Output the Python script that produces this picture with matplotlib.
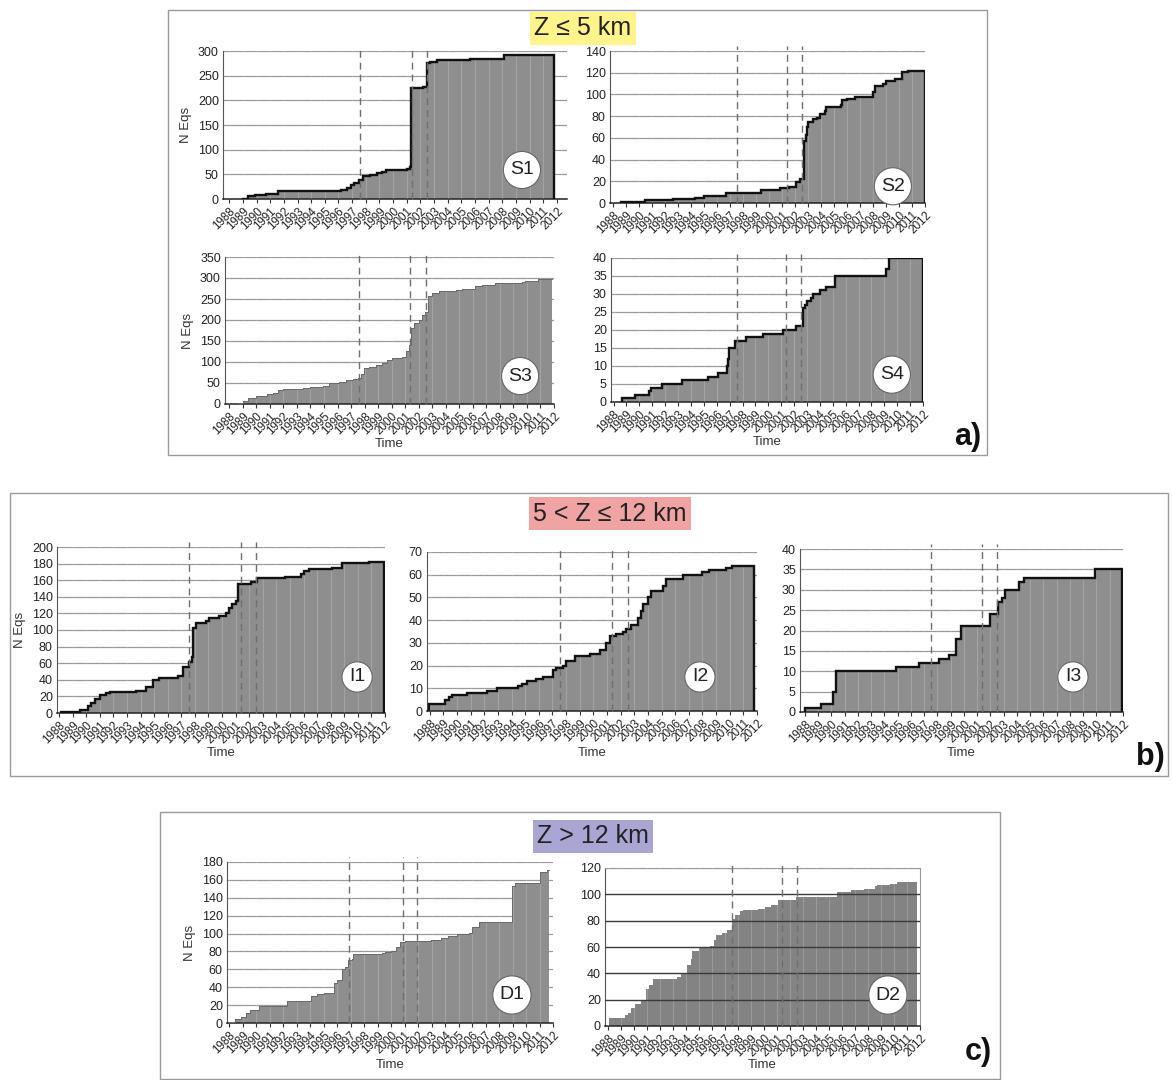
import numpy as np
import matplotlib
matplotlib.use('Agg')
import matplotlib.pyplot as plt
from matplotlib.patches import Rectangle

plt.rcParams['font.family'] = ['Liberation Sans', 'DejaVu Sans']

YEARS = list(range(1988, 2013))

# ---- data: event times (decimal years) and cumulative number of earthquakes ----
S1_T = [1989.0, 1989.4, 1989.9, 1990.7, 1991.6, 1996.2, 1996.6, 1996.9, 1997.1, 1997.5,
        1997.8, 1998.3, 1998.8, 1999.2, 1999.5, 2001.0, 2001.25, 2001.3, 2002.2, 2002.5,
        2002.7, 2003.2, 2005.6, 2008.1]
S1_N = [1, 7, 8, 10, 16, 19, 22, 28, 33, 38, 46, 48, 52, 55, 58, 60, 65, 225, 228, 275,
        278, 282, 283, 291]

S2_T = [1988.56, 1990.4, 1992.6, 1994.3, 1995.0, 1996.7, 1999.4, 2000.8, 2001.5, 2002.1,
        2002.4, 2002.7, 2002.8, 2002.9, 2003.0, 2003.4, 2003.7, 2003.9, 2004.3, 2004.4,
        2005.5, 2005.6, 2005.96, 2006.6, 2008.0, 2008.15, 2008.8, 2009.0, 2009.7, 2010.2,
        2010.7]
S2_N = [1, 3, 4, 5, 6, 9, 12, 14, 15, 19, 22, 57, 63, 70, 75, 77, 78, 82, 85, 88, 90, 95,
        96, 98, 102, 108, 110, 112, 114, 121, 122]

S3_T = [1988.66, 1989.03, 1989.4, 1990.0, 1990.75, 1991.24, 1991.6, 1991.97, 1993.44,
        1993.93, 1994.91, 1995.4, 1996.14, 1996.63, 1997.12, 1997.49, 1997.73, 1997.98,
        1998.34, 1998.83, 1999.32, 1999.69, 2000.06, 2000.79, 2001.04, 2001.28, 2001.4,
        2001.65, 2002.02, 2002.26, 2002.5, 2002.66, 2003.0, 2003.49, 2004.72, 2005.2,
        2006.19, 2006.68, 2007.66, 2008.64, 2009.62, 2009.86, 2010.84]
S3_N = [2, 8, 15, 20, 23, 26, 33, 35, 38, 40, 42, 50, 52, 57, 59, 62, 72, 85, 88, 92, 97,
        105, 110, 112, 125, 140, 180, 192, 200, 213, 220, 258, 265, 268, 272, 275, 280, 284,
        287, 289, 291, 293, 298]

S4_T = [1988.65, 1989.68, 1990.71, 1990.89, 1991.74, 1993.29, 1995.35, 1996.13, 1996.77,
        1996.85, 1996.95, 1997.42, 1998.25, 1999.61, 2001.11, 2002.14, 2002.71, 2002.84,
        2002.97, 2003.35, 2003.48, 2004.0, 2004.46, 2005.16, 2009.11, 2009.34]
S4_N = [1, 2, 3, 4, 5, 6, 7, 8, 10, 12, 15, 17, 18, 19, 20, 21, 26, 27, 28, 29, 30, 31, 32,
        35, 37, 40]

I1_T = [1988.17, 1989.52, 1990.13, 1990.37, 1990.62, 1990.98, 1991.47, 1991.72, 1993.67,
        1994.41, 1994.9, 1995.38, 1996.73, 1997.1, 1997.58, 1997.78, 1997.9, 1998.07,
        1998.8, 1999.05, 1999.78, 2000.27, 2000.52, 2000.76, 2001.0, 2001.2, 2001.5,
        2002.1, 2002.6, 2004.67, 2005.78, 2006.02, 2006.39, 2008.1, 2008.83, 2010.79]
I1_N = [1, 4, 8, 12, 17, 22, 24, 25, 26, 31, 40, 42, 45, 55, 62, 67, 103, 108, 111, 115,
        117, 120, 126, 131, 135, 155, 156, 158, 163, 164, 167, 171, 173, 175, 181, 182]

I2_T = [1987.95, 1989.14, 1989.39, 1989.63, 1990.73, 1992.18, 1992.91, 1994.5, 1994.74,
        1995.1, 1995.83, 1996.32, 1997.05, 1997.29, 1997.78, 1998.02, 1998.63, 1999.73,
        2000.46, 2000.94, 2001.19, 2001.67, 2002.16, 2002.4, 2002.77, 2003.26, 2003.5,
        2003.62, 2003.99, 2004.23, 2005.08, 2005.32, 2006.54, 2008.0, 2008.49, 2009.7,
        2010.19]
I2_N = [3, 5, 6, 7, 8, 9, 10, 11, 12, 13, 14, 15, 18, 19, 20, 22, 24, 25, 27, 30, 33, 34,
        35, 36, 38, 41, 44, 47, 50, 53, 55, 58, 60, 61, 62, 63, 64]

I3_T = [1988.0, 1989.25, 1990.13, 1990.38, 1994.88, 1996.63, 1998.13, 1998.88, 1999.38,
        1999.75, 2002.0, 2002.58, 2002.88, 2003.13, 2004.13, 2004.5, 2009.88]
I3_N = [1, 2, 5, 10, 11, 12, 13, 14, 18, 21, 24, 27, 28, 30, 32, 33, 35]

D1_T = [1988.05, 1988.42, 1988.9, 1989.27, 1989.52, 1990.25, 1992.33, 1994.04, 1994.53,
        1995.02, 1995.75, 1996.0, 1996.36, 1996.6, 1996.85, 1997.14, 1997.22, 1999.3,
        1999.54, 2000.03, 2000.4, 2000.64, 2001.0, 2002.96, 2003.7, 2004.19, 2004.92,
        2005.78, 2006.02, 2006.51, 2008.95, 2009.2, 2011.03, 2011.52]
D1_N = [1, 5, 7, 11, 15, 19, 25, 30, 32, 34, 45, 48, 60, 63, 70, 72, 77, 78, 79, 80, 85,
        91, 92, 93, 95, 97, 99, 101, 107, 113, 153, 156, 169, 171]

D2_T = [1988.08, 1989.27, 1989.52, 1989.78, 1990.03, 1990.54, 1990.87, 1991.12, 1991.43,
        1993.33, 1993.58, 1994.09, 1994.35, 1994.47, 1994.98, 1995.87, 1996.12, 1996.3,
        1996.76, 1997.14, 1997.52, 1997.77, 1998.15, 1998.41, 1999.55, 2000.06, 2000.56,
        2001.07, 2002.47, 2005.64, 2006.65, 2007.67, 2008.56, 2008.69, 2009.7, 2010.21]
D2_N = [6, 8, 10, 14, 17, 19, 28, 31, 36, 37, 40, 46, 51, 57, 59, 61, 65, 69, 71, 73, 81,
        84, 87, 88, 89, 90, 92, 96, 98, 102, 103, 104, 106, 107, 108, 109]

# dashed reference dates (decimal years)
EVENTS = [1997.55, 2001.38, 2002.52]
EVENTS_D1 = [1996.9, 2000.9, 2001.9]

GROUP_TITLES = ['Z \u2264 5 km', '5 < Z \u2264 12 km', 'Z > 12 km']
GROUP_LETTERS = ['a)', 'b)', 'c)']

# ---------------------------------------------------------------------------
W, H = 1172, 1080
fig = plt.figure(figsize=(W / 100, H / 100), dpi=100)
fig.patch.set_facecolor('white')


def px_rect(x0, y0, x1, y1):
    return [x0 / W, 1 - y1 / H, (x1 - x0) / W, (y1 - y0) / H]


def draw_panel(rect, T, N, end, xl, xr, ymax, ystep, events, name, lpos,
               ylabel=False, xlabel=False, outline=True, dark_grid=False,
               frame=False, fill='#8e8e8e', time_dy=40):
    ax = fig.add_axes(px_rect(*rect))
    T = np.asarray(T, float)
    N = np.asarray(N, float)
    xs = np.r_[T, end]
    ys = np.r_[N, N[-1]]
    ax.fill_between(xs, 0, ys, step='post', color=fill, lw=0, zorder=2)
    # step outline (closed polygon)
    px = np.r_[T[0], np.repeat(xs, 2)[1:-1], end]
    py = np.r_[0, np.repeat(N, 2), 0]
    if outline:
        ax.plot(px, py, color='#111111', lw=1.7, zorder=5, solid_joinstyle='miter')
    elif not dark_grid:
        ax.plot(px[:-1], py[:-1], color='#6a6a6a', lw=0.7, zorder=5)
    # faint yearly lines inside the fill
    for yv in YEARS:
        ax.axvline(yv, color='white', alpha=0.18, lw=0.8, zorder=3)
    # dashed event lines
    for ev in events:
        ax.axvline(ev, ymin=0, ymax=1.03, color='#6f6f6f', lw=1.0,
                   ls=(0, (5, 3.5)), zorder=6, clip_on=False)
    ax.set_xlim(xl, xr)
    ax.set_ylim(0, ymax)
    yt = np.arange(0, ymax + 1, ystep)
    ax.set_yticks(yt)
    if dark_grid:
        for v in yt[1:-1]:
            ax.axhline(v, color='#3a3a3a', lw=1.0, zorder=4)
        ax.axhline(ymax, color='#9a9a9a', lw=0.9, zorder=1)
    else:
        ax.yaxis.grid(True, color='#999999', lw=0.9)
        ax.set_axisbelow(True)
    ax.set_xticks(YEARS)
    ax.set_xticklabels([str(y) for y in YEARS], rotation=45, ha='right',
                       rotation_mode='anchor', fontsize=8.4, color='#222222')
    ax.tick_params(axis='x', length=3, width=0.8, pad=1.5, color='#333333')
    ax.tick_params(axis='y', length=0, pad=3, labelsize=9, labelcolor='#222222')
    for s in ['top', 'right']:
        ax.spines[s].set_visible(False)
    if frame:
        ax.spines['top'].set_visible(True)
        ax.spines['right'].set_visible(True)
        ax.spines['top'].set_color('#9a9a9a')
        ax.spines['right'].set_color('#9a9a9a')
    ax.spines['left'].set_color('#555555')
    ax.spines['bottom'].set_color('#222222')
    ax.spines['bottom'].set_linewidth(1.1)
    ax.set_facecolor('white')
    hpx = rect[3] - rect[1]
    if ylabel:
        ax.set_ylabel('N Eqs', fontsize=9.5, color='#333333', labelpad=4)
    if xlabel:
        ax.text(0.5, -time_dy / hpx, 'Time', transform=ax.transAxes,
                ha='center', va='center', fontsize=9.5, color='#333333')
    ax.text(lpos[0], lpos[1], name, transform=ax.transAxes, ha='center',
            va='center', fontsize=14, color='#222222', zorder=8,
            bbox=dict(boxstyle='circle,pad=0.34', fc='white', ec='#666666', lw=0.8))
    return ax


# group frames
for (x0, y0, x1, y1) in [(168, 10, 987, 455), (10, 493, 1168, 776), (160, 812, 1000, 1079)]:
    fig.patches.append(Rectangle((x0 / W, 1 - y1 / H), (x1 - x0) / W, (y1 - y0) / H,
                                 transform=fig.transFigure, fill=False,
                                 ec='#9a9a9a', lw=1.0, zorder=0))

# group a
draw_panel((223, 51, 567, 199), S1_T, S1_N, 2011.82, 1987.54, 2012.74, 300, 50,
           EVENTS, 'S1', (0.869, 0.196), ylabel=True)
draw_panel((610, 51, 925, 203), S2_T, S2_N, 2012.0, 1987.74, 2012.0, 140, 20,
           EVENTS, 'S2', (0.898, 0.11))
draw_panel((225, 257, 554, 404), S3_T, S3_N, 2011.85, 1987.68, 2011.85, 350, 50,
           EVENTS, 'S3', (0.897, 0.19), ylabel=True, xlabel=True, outline=False)
draw_panel((611, 258, 923, 402), S4_T, S4_N, 2012.0, 1987.8, 2012.0, 40, 5,
           EVENTS, 'S4', (0.90, 0.19), xlabel=True)

# group b
draw_panel((57, 547, 385, 713), I1_T, I1_N, 2011.9, 1987.85, 2011.9, 200, 20,
           EVENTS, 'I1', (0.915, 0.217), ylabel=True, xlabel=True)
draw_panel((427, 552, 757, 711), I2_T, I2_N, 2011.8, 1987.8, 2011.8, 70, 10,
           EVENTS, 'I2', (0.827, 0.214), xlabel=True, time_dy=42)
draw_panel((800, 549, 1123, 712), I3_T, I3_N, 2011.9, 1987.63, 2011.9, 40, 5,
           EVENTS, 'I3', (0.845, 0.215), xlabel=True, time_dy=41)

# group c
draw_panel((227, 862, 553, 1023), D1_T, D1_N, 2011.7, 1987.85, 2011.7, 180, 20,
           EVENTS_D1, 'D1', (0.874, 0.174), ylabel=True, xlabel=True, outline=False,
           time_dy=42)
draw_panel((605, 868, 920, 1026), D2_T, D2_N, 2011.75, 1987.75, 2011.75, 120, 20,
           EVENTS, 'D2', (0.898, 0.196), xlabel=True, outline=False, dark_grid=True,
           frame=True, fill='#838383', time_dy=39)

# group titles
title_specs = [((583, 28), '#fff38c'), ((610, 514), '#f0a3a3'), ((593, 836), '#a9a6d3')]
for (cx, cy), col, txt in zip([t[0] for t in title_specs], [t[1] for t in title_specs],
                              GROUP_TITLES):
    fig.text(cx / W, 1 - cy / H, txt, ha='center', va='center', fontsize=18,
             color='#222222',
             bbox=dict(boxstyle='square,pad=0.18', fc=col, ec='none'))

# group letters
for (cx, cy), lab in zip([(968, 437), (1150, 757), (978, 1052)], GROUP_LETTERS):
    fig.text(cx / W, 1 - cy / H, lab, ha='center', va='center', fontsize=22,
             fontweight='bold', color='#111111')

fig.savefig('out.png', dpi=100, facecolor='white')
